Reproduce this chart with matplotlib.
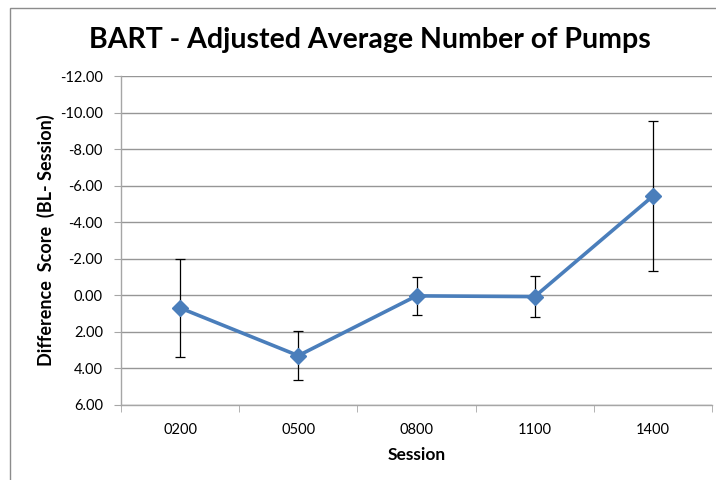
"""
BART - justert gjennomsnittlig antall pumper, differanse mot baseline per sesjon.
"""

import numpy as np
import matplotlib.pyplot as plt
from matplotlib.patches import Rectangle

SESJONER = ["0200", "0500", "0800", "1100", "1400"]
DIFFERANSE = [0.69, 3.30, 0.03, 0.07, -5.43]
FEIL = [2.68, 1.34, 1.04, 1.14, 4.10]
Y_TICKS = [-12, -10, -8, -6, -4, -2, 0, 2, 4, 6]

BLA = "#4A7EBB"
GRA = "#A6A6A6"

plt.rcParams["font.family"] = ["Lato", "DejaVu Sans"]

fig = plt.figure(figsize=(7.16, 4.8), dpi=100)
ax = fig.add_axes([121 / 716, 1 - 405 / 480, (712 - 121) / 716, (405 - 76) / 480])

# Ramme rundt diagrammet (som i Excel)
fig.patches.append(Rectangle((10 / 716, -0.1), 1.2, 1 - 8 / 480 + 0.1,
                             transform=fig.transFigure, fill=False,
                             edgecolor="#8C8C8C", linewidth=1.0))

x = np.arange(len(SESJONER))
ax.errorbar(x, DIFFERANSE, yerr=FEIL, fmt="none", ecolor="black",
            elinewidth=0.9, capsize=3.5, capthick=0.9, zorder=2)
ax.plot(x, DIFFERANSE, color=BLA, linewidth=2.6, marker="D", markersize=8,
        markerfacecolor=BLA, markeredgecolor=BLA, zorder=3)

ax.set_ylim(6, -12)
ax.set_yticks(Y_TICKS)
ax.set_yticklabels([f"{v:.2f}" for v in Y_TICKS], fontsize=10.5)
ax.yaxis.grid(True, color="#969696", linewidth=1.0)
ax.set_axisbelow(True)

ax.set_xlim(-0.5, len(SESJONER) - 0.5)
ax.set_xticks(x)
ax.set_xticklabels(SESJONER, fontsize=10.5)
ax.set_xticks(np.arange(-0.5, len(SESJONER)), minor=True)
ax.tick_params(axis="x", which="major", length=0, pad=13)
ax.tick_params(axis="x", which="minor", length=5, color=GRA, direction="out")
ax.tick_params(axis="y", length=5, color=GRA, direction="out", pad=8)

for side in ["top", "right"]:
    ax.spines[side].set_visible(False)
for side in ["left", "bottom"]:
    ax.spines[side].set_color(GRA)
    ax.spines[side].set_linewidth(1.0)

ax.set_xlabel("Session", fontsize=12.5, fontweight="bold", labelpad=7)
ax.set_ylabel("Difference  Score  (BL- Session)", fontsize=13,
              fontweight="bold", labelpad=4)

fig.text(370 / 716, 1 - 40 / 480, "BART - Adjusted Average Number of Pumps",
         ha="center", va="center", fontsize=20.5, fontweight="bold")

plt.savefig("out.png", dpi=100)
plt.close()
